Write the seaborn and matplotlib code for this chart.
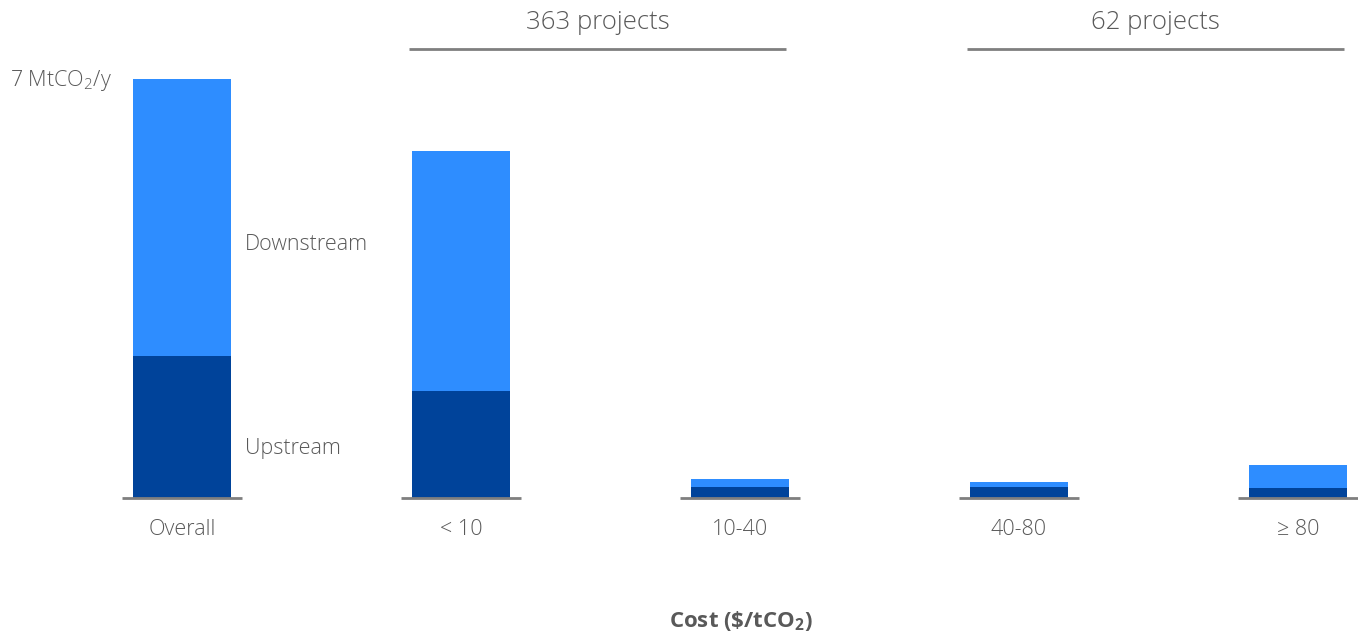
import matplotlib
matplotlib.use("Agg")
import matplotlib.pyplot as plt
import seaborn as sns
import pandas as pd

categories = ["Overall", "< 10", "10-40", "40-80", "≥ 80"]
upstream = [2.37, 1.79, 0.18, 0.18, 0.17]
downstream = [4.63, 4.01, 0.14, 0.09, 0.38]
group_labels = ["363 projects", "62 projects"]
group_spans = [(1, 2), (3, 4)]

sns.set_theme(style="white")
plt.rcParams['font.family'] = ['Open Sans', 'DejaVu Sans']
plt.rcParams['font.weight'] = 'light'
plt.rcParams['mathtext.default'] = 'regular'

C_UP = "#00439A"
C_DOWN = "#2E8DFF"
TXT = "#595959"

df = pd.DataFrame({
    "cat": categories,
    "total": [u + d for u, d in zip(upstream, downstream)],
    "up": upstream,
})

fig = plt.figure(figsize=(13.58, 6.37), dpi=100)
ax = fig.add_axes([0, 0.218, 1, 0.782])

sns.barplot(data=df, x="cat", y="total", order=categories, color=C_DOWN,
            width=0.35, saturation=1, linewidth=0, ax=ax)
sns.barplot(data=df, x="cat", y="up", order=categories, color=C_UP,
            width=0.35, saturation=1, linewidth=0, ax=ax)

ax.set_xlim(-0.652, 4.215)
ax.set_ylim(0, 8.32)
ax.axis("off")

for i, c in enumerate(categories):
    ax.plot([i - 0.215, i + 0.215], [0, 0], color="#7f7f7f", lw=2,
            solid_capstyle="butt", clip_on=False, zorder=1)
    ax.text(i, -0.53, c, ha="center", va="center", fontsize=15.5, color=TXT,
            fontweight="light")

for lab, (a, b) in zip(group_labels, group_spans):
    ax.plot([a - 0.185, b + 0.165], [7.5, 7.5], color="#7f7f7f", lw=2,
            solid_capstyle="butt", clip_on=False)
    ax.text((a + b) / 2 - 0.01, 7.94, lab, ha="center", va="center",
            fontsize=18.5, color=TXT, fontweight="light")

ax.text(-0.615, 6.98, "7 MtCO$_2$/y", ha="left", va="center", fontsize=15.5,
        color=TXT, fontweight="light")
ax.text(0.226, 4.23, "Downstream", ha="left", va="center", fontsize=15.5,
        color=TXT, fontweight="light")
ax.text(0.226, 0.83, "Upstream", ha="left", va="center", fontsize=15.5,
        color=TXT, fontweight="light")

fig.text(741 / 1358, 1 - 621 / 637, "Cost (\\$/tCO$_2$)", ha="center",
         va="center", fontsize=16, fontweight="bold", color=TXT)

fig.savefig("out.png", dpi=100)
